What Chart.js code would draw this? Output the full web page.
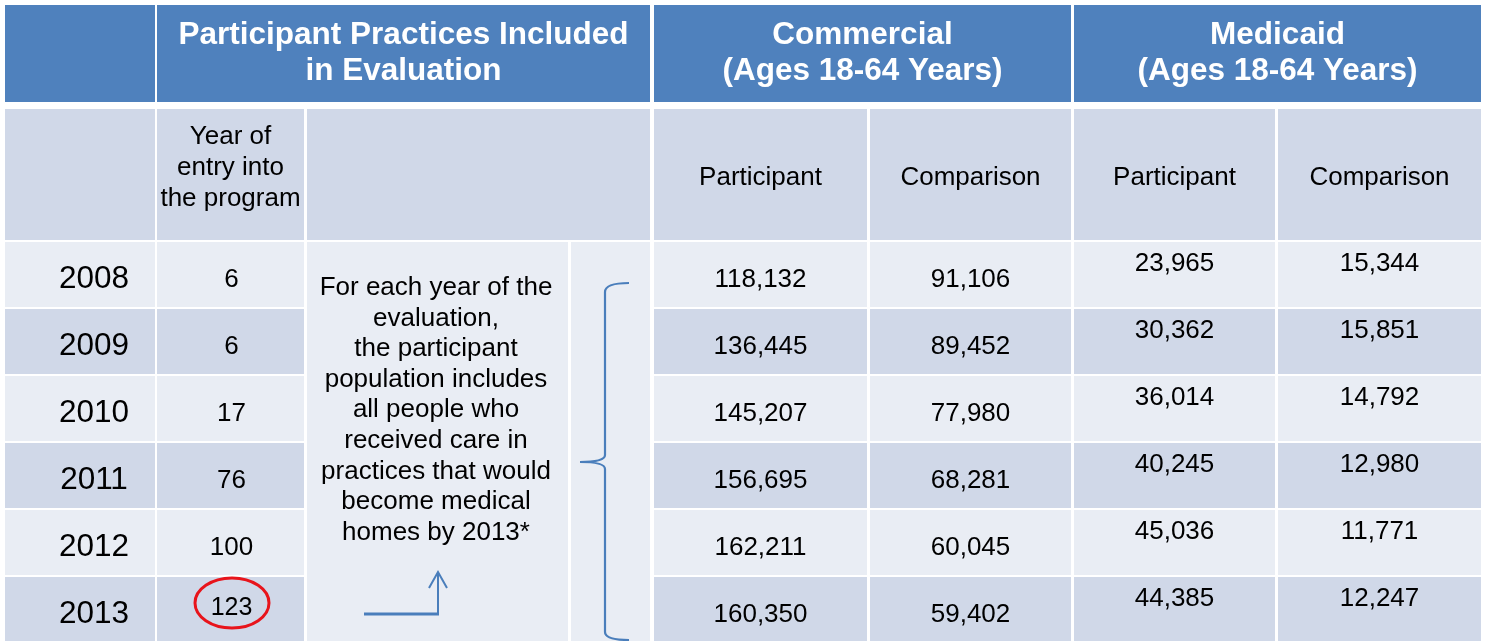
<!DOCTYPE html>
<html><head><meta charset="utf-8">
<style>html,body{margin:0;padding:0;background:#fff;}canvas{display:block}</style>
<script src="https://cdn.jsdelivr.net/npm/chart.js@4/dist/chart.umd.min.js"></script>
</head><body>
<div style="width:1486px;height:641px"><canvas id="c" width="1486" height="641"></canvas></div>
<script>
// ---- data ----
const years = [2008, 2009, 2010, 2011, 2012, 2013];
const practices = [6, 6, 17, 76, 100, 123];
const commercialParticipant = [118132, 136445, 145207, 156695, 162211, 160350];
const commercialComparison = [91106, 89452, 77980, 68281, 60045, 59402];
const medicaidParticipant = [23965, 30362, 36014, 40245, 45036, 44385];
const medicaidComparison = [15344, 15851, 14792, 12980, 11771, 12247];
const groupHeaders = [
  ['Participant Practices Included', 'in Evaluation'],
  ['Commercial', '(Ages 18-64 Years)'],
  ['Medicaid', '(Ages 18-64 Years)']
];
const entryHeader = ['Year of', 'entry into', 'the program'];
const subHeaders = ['Participant', 'Comparison', 'Participant', 'Comparison'];
const noteLines = ['For each year of the', 'evaluation,', 'the participant', 'population includes',
  'all people who', 'received care in', 'practices that would', 'become medical', 'homes by 2013*'];

// ---- layout (scale units) ----
const L = {
  yearCol: [5, 155], entryCol: [157, 304], noteCol: [307, 568], braceCol: [571, 650],
  valCols: [[654, 867], [870, 1071], [1074, 1275], [1278, 1481]],
  groupCols: [[157, 650], [654, 1071], [1074, 1481]],
  header: [5, 102], sub: [109, 240], rowTop: 242, rowStep: 67, rowH: 65, bottom: 641
};
const C = { head: '#4F81BD', dark: '#D0D8E8', light: '#E9EDF4', text: '#000', accent: '#4A7EBB', red: '#E8141B' };
const FONT = '"Liberation Sans", Arial, sans-serif';
const fmt = v => v.toLocaleString('en-US');

const tablePlugin = {
  id: 'table',
  beforeDatasetsDraw(chart) {
    const ctx = chart.ctx, xs = chart.scales.x, ys = chart.scales.y;
    const X = v => xs.getPixelForValue(v), Y = v => ys.getPixelForValue(v);
    const rect = (x0, x1, y0, y1, col) => { ctx.fillStyle = col; ctx.fillRect(X(x0), Y(y0), X(x1) - X(x0), Y(y1) - Y(y0)); };
    const text = (s, cx, by, size, bold, align) => {
      ctx.font = (bold ? 'bold ' : '') + size + 'px ' + FONT;
      ctx.textAlign = align || 'center'; ctx.textBaseline = 'alphabetic';
      ctx.fillText(s, X(cx), Y(by));
    };
    const mid = c => (c[0] + c[1]) / 2;
    ctx.save();
    // header row
    rect(L.yearCol[0], L.yearCol[1], L.header[0], L.header[1], C.head);
    L.groupCols.forEach((c, i) => {
      rect(c[0], c[1], L.header[0], L.header[1], C.head);
      ctx.fillStyle = '#fff';
      groupHeaders[i].forEach((s, k) => text(s, mid(c), 44 + k * 36, 31.5, true));
    });
    // sub header
    rect(L.yearCol[0], L.yearCol[1], L.sub[0], L.sub[1], C.dark);
    rect(L.entryCol[0], L.entryCol[1], L.sub[0], L.sub[1], C.dark);
    rect(L.noteCol[0], L.braceCol[1], L.sub[0], L.sub[1], C.dark);
    ctx.fillStyle = C.text;
    entryHeader.forEach((s, k) => { ctx.fillStyle = C.text; text(s, mid(L.entryCol), 143.5 + k * 31, 26, false); });
    L.valCols.forEach((c, i) => {
      rect(c[0], c[1], L.sub[0], L.sub[1], C.dark);
      ctx.fillStyle = C.text; text(subHeaders[i], mid(c), 185, 26, false);
    });
    // merged note + brace cells
    const lastBottom = L.bottom;
    rect(L.noteCol[0], L.noteCol[1], L.rowTop, lastBottom, C.light);
    rect(L.braceCol[0], L.braceCol[1], L.rowTop, lastBottom, C.light);
    // data rows
    const series = [commercialParticipant, commercialComparison, medicaidParticipant, medicaidComparison];
    years.forEach((yr, r) => {
      const top = L.rowTop + r * L.rowStep;
      const bot = r === years.length - 1 ? lastBottom : top + L.rowH;
      const col = r % 2 === 0 ? C.light : C.dark;
      rect(L.yearCol[0], L.yearCol[1], top, bot, col);
      rect(L.entryCol[0], L.entryCol[1], top, bot, col);
      L.valCols.forEach(c => rect(c[0], c[1], top, bot, col));
      ctx.fillStyle = C.text;
      text(String(yr), 94, top + 46, 31.5, false);
      const last = r === years.length - 1;
      text(String(practices[r]), mid(L.entryCol) + 1, top + (last ? 38 : 45), last ? 25 : 26, false);
      series.forEach((s, i) => {
        ctx.fillStyle = C.text;
        text(fmt(s[r]), mid(L.valCols[i]), top + (i < 2 ? 45 : 29), 26, false);
      });
      if (last) {
        ctx.strokeStyle = C.red; ctx.lineWidth = 3;
        ctx.beginPath();
        ctx.ellipse(X(232), Y(top + 26), X(37) - X(0), Y(25) - Y(0), 0, 0, Math.PI * 2);
        ctx.stroke();
      }
    });
    // note text
    ctx.fillStyle = C.text;
    noteLines.forEach((s, k) => text(s, 436, 295 + k * 30.6, 26, false));
    // arrow
    ctx.strokeStyle = C.accent; ctx.lineCap = 'butt';
    ctx.lineWidth = 3;
    ctx.beginPath(); ctx.moveTo(X(364), Y(614)); ctx.lineTo(X(437), Y(614)); ctx.stroke();
    ctx.lineWidth = 2;
    ctx.beginPath(); ctx.moveTo(X(438), Y(615.5)); ctx.lineTo(X(438), Y(572)); ctx.stroke();
    ctx.beginPath(); ctx.moveTo(X(429), Y(588)); ctx.lineTo(X(438), Y(572)); ctx.lineTo(X(447), Y(588)); ctx.stroke();
    // brace
    ctx.lineWidth = 2.2;
    ctx.beginPath();
    ctx.moveTo(X(629), Y(283));
    ctx.quadraticCurveTo(X(605), Y(283), X(605), Y(292));
    ctx.lineTo(X(605), Y(455));
    ctx.quadraticCurveTo(X(605), Y(462), X(580), Y(462));
    ctx.quadraticCurveTo(X(605), Y(462), X(605), Y(469));
    ctx.lineTo(X(605), Y(632));
    ctx.quadraticCurveTo(X(605), Y(640), X(629), Y(640));
    ctx.stroke();
    ctx.restore();
  }
};

new Chart(document.getElementById('c'), {
  type: 'scatter',
  data: { datasets: [] },
  options: {
    responsive: false, animation: false, devicePixelRatio: 1,
    layout: { padding: 0 },
    plugins: { legend: { display: false }, tooltip: { enabled: false } },
    scales: {
      x: { type: 'linear', min: 0, max: 1486, display: false },
      y: { type: 'linear', min: 0, max: 641, reverse: true, display: false }
    }
  },
  plugins: [tablePlugin]
});
</script>
</body></html>
